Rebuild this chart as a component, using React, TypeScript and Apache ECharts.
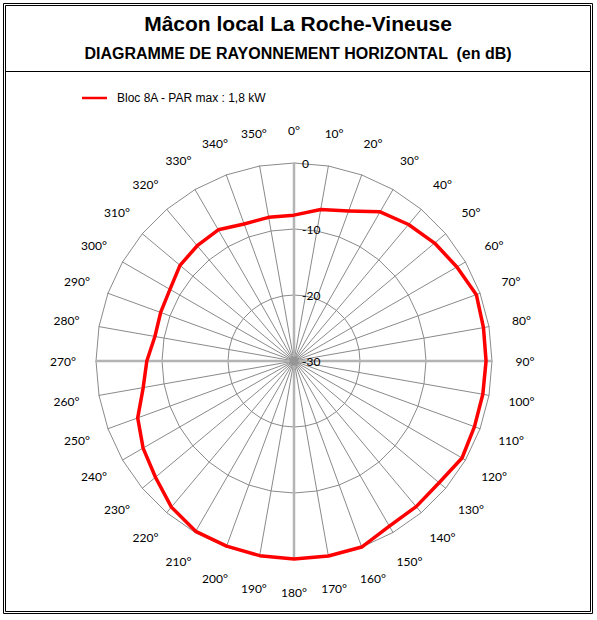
import React, { useEffect, useRef } from "react";
import * as echarts from "echarts";

// Azimuths (degrees, clockwise from north) and their tick labels
const angles = [0, 10, 20, 30, 40, 50, 60, 70, 80, 90, 100, 110, 120, 130, 140, 150, 160, 170,
  180, 190, 200, 210, 220, 230, 240, 250, 260, 270, 280, 290, 300, 310, 320, 330, 340, 350];
const angleLabels = ["0°", "10°", "20°", "30°", "40°", "50°", "60°", "70°", "80°", "90°", "100°",
  "110°", "120°", "130°", "140°", "150°", "160°", "170°", "180°", "190°", "200°", "210°", "220°",
  "230°", "240°", "250°", "260°", "270°", "280°", "290°", "300°", "310°", "320°", "330°", "340°", "350°"];

// Attenuation in dB for each azimuth
const attenuation = [-7.9, -6.7, -5.8, -3.9, -3.0, -2.2, -1.5, -0.6, -0.85, -0.9, -0.95, -0.9,
  -0.6, -1.3, -1.2, -1.1, 0, 0, 0, -0.05, -0.15, -0.2, -1.1, -2.6, -3.6, -4.8, -6.8, -7.7,
  -8.6, -8.5, -8.3, -7.45, -7.2, -7.05, -7.9, -7.9];

const radialMin = -30;
const radialMax = 0;
const radialInterval = 10;

const seriesName = "Bloc 8A - PAR max : 1,8 kW";
const titleText = "Mâcon local La Roche-Vineuse";
const subtitleText = "DIAGRAMME DE RAYONNEMENT HORIZONTAL  (en dB)";

const W = 597;
const H = 620;
const CX = 294;
const CY = 361;
const R = 198;
const LABEL_R = 231;

export default function App() {
  const ref = useRef<HTMLDivElement>(null);

  useEffect(() => {
    if (!ref.current) return;
    const chart = echarts.init(ref.current, null, { renderer: "svg", width: W, height: H });

    // ECharts radar places indicators counter-clockwise; reverse to get clockwise azimuths
    const order = [0, ...angles.slice(1).map((_, i) => angles.length - 1 - i)];
    const indicator = order.map((i) => ({ name: angleLabels[i], min: radialMin, max: radialMax }));
    const values = order.map((i) => attenuation[i]);

    const angleTextEls = angles.map((a, i) => {
      const rad = (a * Math.PI) / 180;
      return {
        type: "text",
        x: CX + LABEL_R * Math.sin(rad),
        y: CY - LABEL_R * Math.cos(rad),
        z: 10,
        style: {
          text: angleLabels[i],
          align: "center",
          verticalAlign: "middle",
          font: '12px Lato',
          fill: "#000",
        },
      };
    });

    chart.setOption({
      animation: false,
      backgroundColor: "#fff",
      legend: {
        left: 82,
        top: 92,
        padding: 0,
        icon: "rect",
        itemWidth: 25,
        itemHeight: 2.5,
        selectedMode: false,
        data: [seriesName],
        textStyle: {
          fontSize: 12,
          fontFamily: '"Liberation Sans", Arial, sans-serif',
          color: "#000",
          padding: [0, 0, 0, 5],
        },
      },
      radar: {
        center: [CX, CY],
        radius: R,
        startAngle: 90,
        shape: "polygon",
        splitNumber: (radialMax - radialMin) / radialInterval,
        indicator,
        axisName: { show: false },
        axisLine: { lineStyle: { color: "#8a8a8a", width: 1 } },
        splitLine: { lineStyle: { color: "#8a8a8a", width: 1 } },
        splitArea: { show: false },
        axisTick: { show: false },
        axisLabel: { show: false },
        z: 1,
      },
      grid: { left: CX, top: CY - R, width: 1, height: R, show: false },
      xAxis: { type: "value", show: false },
      yAxis: {
        type: "value",
        min: radialMin,
        max: radialMax,
        interval: radialInterval,
        axisLine: { show: false },
        axisTick: { show: false },
        splitLine: { show: false },
        axisLabel: {
          inside: true,
          margin: 8,
          fontSize: 12,
          fontFamily: "Lato",
          color: "#000",
        },
        z: 6,
      },
      series: [
        {
          type: "radar",
          name: seriesName,
          symbol: "none",
          z: 5,
          lineStyle: { color: "#ff0000", width: 3.5 },
          itemStyle: { color: "#ff0000" },
          data: [{ value: values, name: seriesName }],
        },
      ],
      graphic: [
        {
          type: "rect",
          z: 0,
          shape: { x: 3.5, y: 3.5, width: 589, height: 610 },
          style: { fill: "none", stroke: "#000", lineWidth: 1 },
        },
        {
          type: "rect",
          z: 0,
          shape: { x: 5.5, y: 5.5, width: 585, height: 606 },
          style: { fill: "none", stroke: "#000", lineWidth: 1 },
        },
        {
          type: "line",
          z: 0,
          shape: { x1: 5.5, y1: 71.5, x2: 590.5, y2: 71.5 },
          style: { stroke: "#000", lineWidth: 1 },
        },
        {
          type: "text",
          x: 298,
          y: 23,
          style: {
            text: titleText,
            align: "center",
            verticalAlign: "middle",
            font: 'bold 21px "Liberation Sans", Arial, sans-serif',
            fill: "#000",
          },
        },
        {
          type: "text",
          x: 298,
          y: 53,
          style: {
            text: subtitleText,
            align: "center",
            verticalAlign: "middle",
            font: 'bold 16px "Liberation Sans", Arial, sans-serif',
            fill: "#000",
          },
        },
        {
          type: "line",
          z: 3,
          shape: { x1: CX, y1: CY - R, x2: CX, y2: CY + R },
          style: { stroke: "#b4b4b4", lineWidth: 2.5 },
        },
        {
          type: "line",
          z: 3,
          shape: { x1: CX - R, y1: CY, x2: CX + R, y2: CY },
          style: { stroke: "#b4b4b4", lineWidth: 2.5 },
        },
        {
          type: "circle",
          z: 3,
          shape: { cx: CX, cy: CY, r: 4.5 },
          style: { fill: "#969696" },
        },
        ...angleTextEls,
      ],
    });

    return () => {
      chart.dispose();
    };
  }, []);

  return (
    <div
      ref={ref}
      style={{ position: "absolute", left: 0, top: 0, width: W, height: H, background: "#fff" }}
    />
  );
}
